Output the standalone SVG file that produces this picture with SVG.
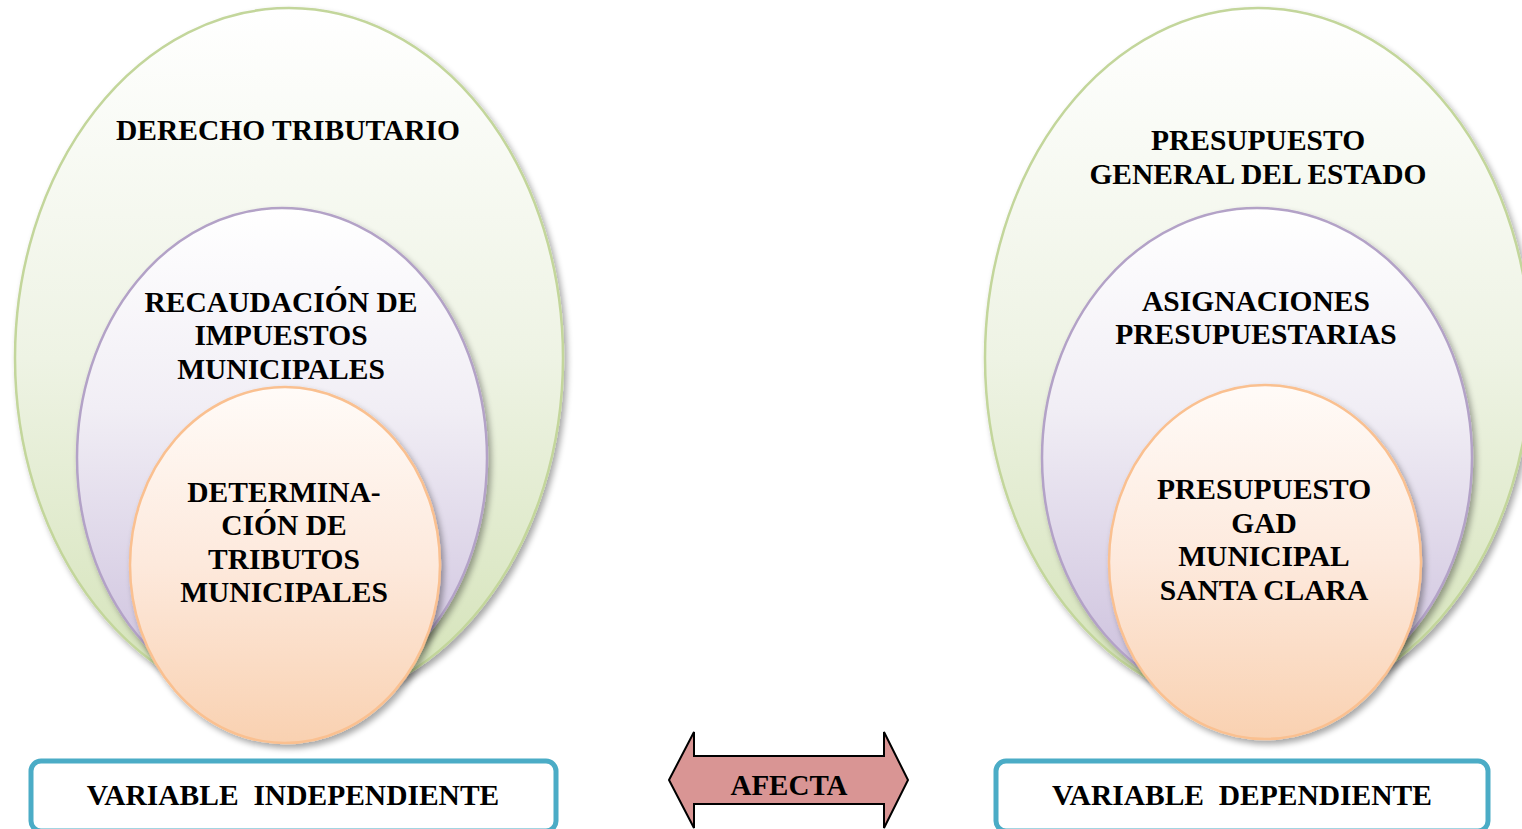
<svg xmlns="http://www.w3.org/2000/svg" width="1522" height="829" viewBox="0 0 1522 829">
<defs>
<linearGradient id="gGreen" x1="0" y1="0" x2="0" y2="1"><stop offset="0" stop-color="#ffffff"/><stop offset="0.5" stop-color="#eef3e4"/><stop offset="1" stop-color="#d3e2b6"/></linearGradient>
<linearGradient id="gPurple" x1="0" y1="0" x2="0" y2="1"><stop offset="0" stop-color="#ffffff"/><stop offset="0.4" stop-color="#f1eef5"/><stop offset="1" stop-color="#c9bcdb"/></linearGradient>
<linearGradient id="gOrange" x1="0" y1="0" x2="0" y2="1"><stop offset="0" stop-color="#fffbf8"/><stop offset="0.5" stop-color="#fde9dc"/><stop offset="1" stop-color="#f9d1b1"/></linearGradient>
<filter id="sh" x="-10%" y="-10%" width="125%" height="125%"><feGaussianBlur in="SourceAlpha" stdDeviation="3"/><feOffset dx="3" dy="4" result="b"/><feComponentTransfer><feFuncA type="linear" slope="0.35"/></feComponentTransfer><feMerge><feMergeNode/><feMergeNode in="SourceGraphic"/></feMerge></filter>
</defs>
<style>
.t{font-family:"Liberation Serif","Times New Roman",serif;font-weight:bold;font-size:29.5px;fill:#000;text-anchor:middle}
.green{fill:url(#gGreen);stroke:#c3d69b;stroke-width:2.5}
.purple{fill:url(#gPurple);stroke:#b3a2c7;stroke-width:2.5}
.orange{fill:url(#gOrange);stroke:#fac090;stroke-width:2.5}
.box{fill:#fff;stroke:#4bacc6;stroke-width:5}
</style>
<rect width="1522" height="829" fill="#fff"/>
<g id="left-outer"><ellipse class="green" cx="289" cy="358" rx="274" ry="350" filter="url(#sh)"/><text class="t" x="288" y="140">DERECHO TRIBUTARIO</text></g>
<g id="left-middle"><ellipse class="purple" cx="282" cy="458" rx="205" ry="250" filter="url(#sh)"/><text class="t" x="281" y="312">RECAUDACIÓN DE</text><text class="t" x="281" y="345">IMPUESTOS</text><text class="t" x="281" y="379">MUNICIPALES</text></g>
<g id="left-inner"><ellipse class="orange" cx="285" cy="565" rx="155" ry="178" filter="url(#sh)"/><text class="t" x="284" y="502">DETERMINA-</text><text class="t" x="284" y="535">CIÓN DE</text><text class="t" x="284" y="569">TRIBUTOS</text><text class="t" x="284" y="602">MUNICIPALES</text></g>
<g id="right-outer"><ellipse class="green" cx="1258" cy="358" rx="273" ry="350" filter="url(#sh)"/><text class="t" x="1258" y="150">PRESUPUESTO</text><text class="t" x="1258" y="184">GENERAL DEL ESTADO</text></g>
<g id="right-middle"><ellipse class="purple" cx="1257" cy="458" rx="215" ry="250" filter="url(#sh)"/><text class="t" x="1256" y="311">ASIGNACIONES</text><text class="t" x="1256" y="344">PRESUPUESTARIAS</text></g>
<g id="right-inner"><ellipse class="orange" cx="1265" cy="562" rx="156" ry="177" filter="url(#sh)"/><text class="t" x="1264" y="499">PRESUPUESTO</text><text class="t" x="1264" y="533">GAD</text><text class="t" x="1264" y="566">MUNICIPAL</text><text class="t" x="1264" y="600">SANTA CLARA</text></g>
<g id="box-independiente"><rect class="box" x="31" y="761" width="525" height="70" rx="10"/><text class="t" x="293" y="805" xml:space="preserve">VARIABLE  INDEPENDIENTE</text></g>
<g id="box-dependiente"><rect class="box" x="996" y="761" width="492" height="70" rx="10"/><text class="t" x="1242" y="805" xml:space="preserve">VARIABLE  DEPENDIENTE</text></g>
<g id="connectors"><g id="afecta"><path d="M669,780 L694,732 L694,756 L884,756 L884,732 L908,780 L884,828 L884,804 L694,804 L694,828 Z" fill="#d99594" stroke="#000" stroke-width="2" stroke-linejoin="miter"/><text class="t" x="789" y="795" style="font-size:29px">AFECTA</text></g></g>
</svg>
